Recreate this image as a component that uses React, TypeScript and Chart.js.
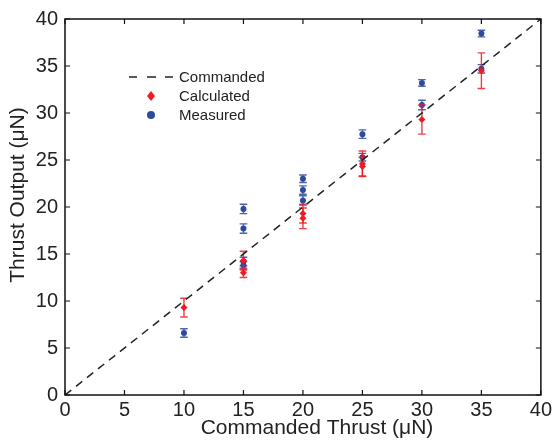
import React, { useEffect, useRef } from "react";
import { Chart, registerables } from "chart.js";

Chart.register(...registerables);

// ---- data ----
const calcX = [10, 15, 15, 20, 20, 25, 25, 30, 35];
const calcY = [9.3, 14.3, 13.0, 19.3, 18.8, 24.6, 24.3, 29.3, 34.5];
const calcErr = [1.0, 1.0, 0.5, 1.0, 1.1, 1.35, 1.0, 1.55, 1.9];

const measX = [10, 15, 15, 15, 15, 20, 20, 20, 25, 25, 30, 30, 35, 35];
const measY = [6.6, 19.8, 17.7, 14.2, 13.8, 23.0, 21.8, 20.7, 27.75, 25.3, 33.2, 30.85, 38.45, 34.7];
const measErr = [0.45, 0.5, 0.5, 0.45, 0.4, 0.4, 0.45, 0.5, 0.45, 0.4, 0.35, 0.5, 0.35, 0.45];

const lineX = [0, 40];
const lineY = [0, 40];

const axisTicks = [0, 5, 10, 15, 20, 25, 30, 35, 40];

const xTitle = "Commanded Thrust (μN)";
const yTitle = "Thrust Output (μN)";
const legendLabels = ["Commanded", "Calculated", "Measured"];

const RED = "rgb(237,28,36)";
const BLUE = "rgb(46,74,158)";
const FONT = "'Liberation Sans', Arial, Helvetica, sans-serif";

const errors: Record<number, { err: number[]; color: string }> = {
  1: { err: calcErr, color: "rgba(237,28,36,0.85)" },
  2: { err: measErr, color: "rgba(46,74,158,0.85)" },
};

const errorBarPlugin = {
  id: "errorBars",
  beforeDatasetDraw(chart: any, args: any) {
    const info = errors[args.index];
    if (!info) return;
    const ds = chart.data.datasets[args.index];
    const xs = chart.scales.x;
    const ys = chart.scales.y;
    const ctx = chart.ctx;
    ctx.save();
    ctx.strokeStyle = info.color;
    ctx.lineWidth = 1.4;
    ds.data.forEach((p: any, i: number) => {
      const px = xs.getPixelForValue(p.x);
      const top = ys.getPixelForValue(p.y + info.err[i]);
      const bot = ys.getPixelForValue(p.y - info.err[i]);
      const cw = 3.8;
      ctx.beginPath();
      ctx.moveTo(px, top);
      ctx.lineTo(px, bot);
      ctx.moveTo(px - cw, top);
      ctx.lineTo(px + cw, top);
      ctx.moveTo(px - cw, bot);
      ctx.lineTo(px + cw, bot);
      ctx.stroke();
    });
    ctx.restore();
  },
};

const framePlugin = {
  id: "frame",
  afterDraw(chart: any) {
    const { ctx, chartArea: a, scales } = chart;
    const xs = scales.x;
    const ys = scales.y;
    ctx.save();
    ctx.strokeStyle = "#111";
    ctx.lineWidth = 1.5;
    ctx.strokeRect(a.left, a.top, a.right - a.left, a.bottom - a.top);
    const tl = 5;
    ctx.lineWidth = 1.2;
    ctx.beginPath();
    axisTicks.forEach((v) => {
      const px = xs.getPixelForValue(v);
      ctx.moveTo(px, a.bottom);
      ctx.lineTo(px, a.bottom - tl);
      ctx.moveTo(px, a.top);
      ctx.lineTo(px, a.top + tl);
      const py = ys.getPixelForValue(v);
      ctx.moveTo(a.left, py);
      ctx.lineTo(a.left + tl, py);
      ctx.moveTo(a.right, py);
      ctx.lineTo(a.right - tl, py);
    });
    ctx.stroke();

    // axis titles
    ctx.fillStyle = "#222";
    ctx.font = `21px ${FONT}`;
    ctx.textAlign = "center";
    ctx.textBaseline = "middle";
    ctx.fillText(xTitle, 317, 428);
    ctx.save();
    ctx.translate(18, 195);
    ctx.rotate(-Math.PI / 2);
    ctx.fillText(yTitle, 0, 0);
    ctx.restore();

    // legend
    ctx.font = `15px ${FONT}`;
    ctx.textAlign = "left";
    ctx.fillStyle = "#222";
    const lx = 179;
    const rows = [77, 96, 115];
    ctx.strokeStyle = "#222";
    ctx.lineWidth = 1.5;
    ctx.beginPath();
    [[129, 137], [147, 156], [165, 173]].forEach(([s, e]) => {
      ctx.moveTo(s, rows[0]);
      ctx.lineTo(e, rows[0]);
    });
    ctx.stroke();
    ctx.fillStyle = RED;
    ctx.beginPath();
    ctx.moveTo(151, rows[1] - 5);
    ctx.lineTo(155, rows[1]);
    ctx.lineTo(151, rows[1] + 5);
    ctx.lineTo(147, rows[1]);
    ctx.closePath();
    ctx.fill();
    ctx.fillStyle = BLUE;
    ctx.beginPath();
    ctx.arc(151, rows[2], 4, 0, Math.PI * 2);
    ctx.fill();
    ctx.fillStyle = "#222";
    legendLabels.forEach((t, i) => ctx.fillText(t, lx, rows[i] + 1));
    ctx.restore();
  },
};

export default function App() {
  const ref = useRef<HTMLCanvasElement>(null);
  useEffect(() => {
    if (!ref.current) return;
    const chart = new Chart(ref.current, {
      type: "scatter",
      data: {
        datasets: [
          {
            label: legendLabels[0],
            data: lineX.map((x, i) => ({ x, y: lineY[i] })),
            showLine: true,
            borderColor: "#222",
            borderWidth: 1.5,
            borderDash: [8, 6],
            pointRadius: 0,
          },
          {
            label: legendLabels[1],
            data: calcX.map((x, i) => ({ x, y: calcY[i] })),
            pointStyle: "rectRot",
            pointRadius: 3.5,
            backgroundColor: RED,
            borderColor: RED,
            borderWidth: 0,
          },
          {
            label: legendLabels[2],
            data: measX.map((x, i) => ({ x, y: measY[i] })),
            pointStyle: "circle",
            pointRadius: 3,
            backgroundColor: BLUE,
            borderColor: BLUE,
            borderWidth: 0,
          },
        ],
      },
      options: {
        responsive: false,
        animation: false,
        layout: { padding: { top: 18, right: 14, left: 0, bottom: 0 } },
        plugins: { legend: { display: false }, tooltip: { enabled: false } },
        scales: {
          x: {
            type: "linear",
            min: 0,
            max: 40,
            afterBuildTicks: (s: any) => {
              s.ticks = axisTicks.map((v) => ({ value: v }));
            },
            afterFit: (s: any) => {
              s.height = 48;
            },
            grid: { display: false, drawTicks: false },
            border: { display: false },
            ticks: { padding: 3, color: "#222", font: { size: 20, family: FONT }, maxRotation: 0 },
          },
          y: {
            type: "linear",
            min: 0,
            max: 40,
            afterBuildTicks: (s: any) => {
              s.ticks = axisTicks.map((v) => ({ value: v }));
            },
            afterFit: (s: any) => {
              s.width = 65;
            },
            grid: { display: false, drawTicks: false },
            border: { display: false },
            ticks: { padding: 7, color: "#222", font: { size: 20, family: FONT } },
          },
        },
      },
      plugins: [errorBarPlugin, framePlugin],
    });
    return () => chart.destroy();
  }, []);
  return (
    <div style={{ position: "fixed", left: 0, top: 0, width: 555, height: 443, background: "#fff" }}>
      <canvas ref={ref} width={555} height={443} />
    </div>
  );
}
